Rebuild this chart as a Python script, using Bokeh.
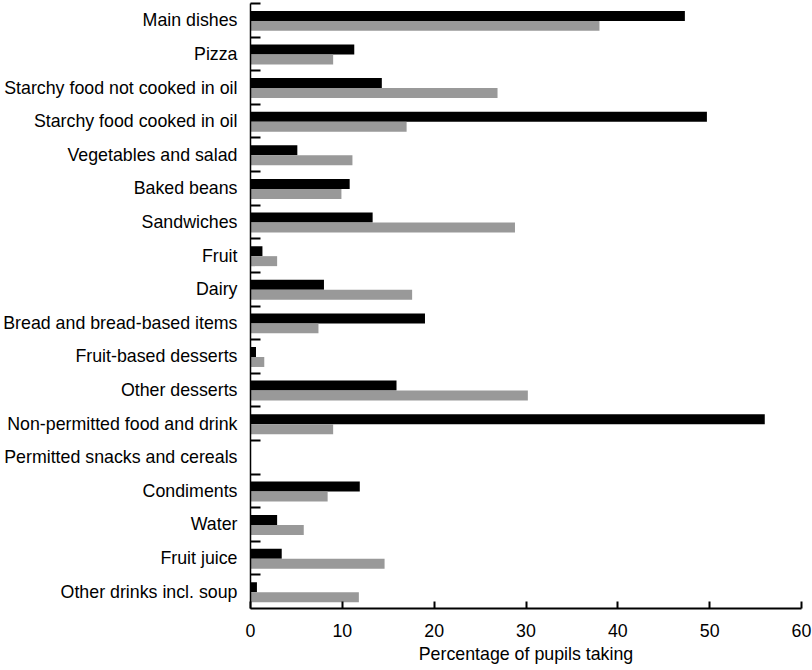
import numpy as np
from bokeh.plotting import figure
from bokeh.models import Range1d, FixedTicker, ColumnDataSource
from bokeh.transform import dodge
from bokeh.embed import file_html
from bokeh.resources import INLINE

categories = [
    "Main dishes", "Pizza", "Starchy food not cooked in oil", "Starchy food cooked in oil",
    "Vegetables and salad", "Baked beans", "Sandwiches", "Fruit", "Dairy",
    "Bread and bread-based items", "Fruit-based desserts", "Other desserts",
    "Non-permitted food and drink", "Permitted snacks and cereals", "Condiments",
    "Water", "Fruit juice", "Other drinks incl. soup",
]
series_black = [47.3, 11.3, 14.3, 49.7, 5.1, 10.8, 13.3, 1.3, 8.0, 19.0, 0.6, 15.9, 56.0, 0.0, 11.9, 2.9, 3.4, 0.7]
series_grey = [38.0, 9.0, 26.9, 17.0, 11.1, 9.9, 28.8, 2.9, 17.6, 7.4, 1.5, 30.2, 9.0, 0.0, 8.4, 5.8, 14.6, 11.8]
x_ticks = [0, 10, 20, 30, 40, 50, 60]
x_label = "Percentage of pupils taking"

n = len(categories)
idx = np.arange(n)
centers = (idx + 0.5).tolist()
boundaries = idx.astype(float).tolist()

src = ColumnDataSource(dict(y=centers, black=series_black, grey=series_grey, cat=categories))

FONT = "Liberation Sans"
FS = "17.8px"

p = figure(
    output_backend="svg", toolbar_location=None,
    frame_width=551, frame_height=605,
    x_range=Range1d(0, 60), y_range=Range1d(n, 0),
    min_border_left=250, min_border_right=11, min_border_top=3, min_border_bottom=59,
)
p.outline_line_color = None
p.xgrid.visible = False
p.ygrid.visible = False
p.background_fill_color = "white"
p.border_fill_color = "white"

p.hbar(y=dodge("y", -0.1315), right="black", left=0, height=0.297, source=src,
       fill_color="#000000", line_color=None)
p.hbar(y=dodge("y", 0.1655), right="grey", left=0, height=0.297, source=src,
       fill_color="#999999", line_color=None)

xa = p.xaxis[0]
xa.ticker = FixedTicker(ticks=x_ticks, minor_ticks=[])
xa.axis_line_width = 2
xa.axis_line_color = "black"
xa.major_tick_in = 7
xa.major_tick_out = 0
xa.major_tick_line_width = 2
xa.minor_tick_line_color = None
xa.major_label_standoff = 15
xa.major_label_text_font = FONT
xa.major_label_text_font_size = FS
xa.major_label_text_color = "black"
xa.axis_label = x_label
xa.axis_label_text_font = FONT
xa.axis_label_text_font_size = FS
xa.axis_label_text_font_style = "normal"
xa.axis_label_text_color = "black"
xa.axis_label_standoff = 4

ya = p.yaxis[0]
ya.ticker = FixedTicker(ticks=centers, minor_ticks=boundaries)
ya.major_label_overrides = {c: name for c, name in zip(centers, categories)}
ya.axis_line_width = 1.5
ya.axis_line_color = "black"
ya.major_tick_in = 0
ya.major_tick_out = 0
ya.minor_tick_in = 10
ya.minor_tick_out = 0
ya.minor_tick_line_width = 2
ya.minor_tick_line_color = "black"
ya.major_label_standoff = 13
ya.major_label_text_font = FONT
ya.major_label_text_font_size = FS
ya.major_label_text_color = "black"

open("out.html", "w").write(file_html(p, INLINE))
